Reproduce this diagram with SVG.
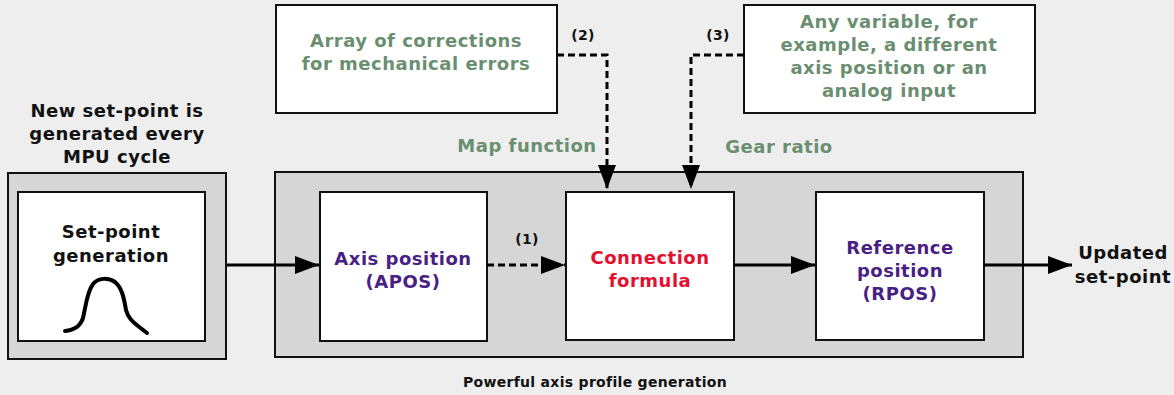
<svg xmlns="http://www.w3.org/2000/svg" width="1174" height="395" viewBox="0 0 1174 395">
<style>
text{font-family:"DejaVu Sans","Liberation Sans",sans-serif;font-weight:bold;text-anchor:middle}
.t{font-size:18px;letter-spacing:0.5px}
.g{fill:#6a8f70}
.p{fill:#4a1f85}
.r{fill:#e3102f}
.k{fill:#111}
.s{font-size:14px;letter-spacing:0.3px;fill:#111}
.box{fill:#fff;stroke:#111;stroke-width:2}
.grp{fill:#d6d6d6;stroke:#111;stroke-width:2}
.ln{fill:none;stroke:#000;stroke-width:3}
.dash{stroke-dasharray:7 4}
</style>
<defs>
<marker id="ah" markerWidth="24" markerHeight="18" refX="24" refY="9" orient="auto" markerUnits="userSpaceOnUse">
<path d="M0,0 L24,9 L0,18 Z" fill="#000"/>
</marker>
</defs>
<rect width="1174" height="395" fill="#eeeeee"/>
<g id="setpoint-group">
<rect class="grp" x="8" y="173" width="218" height="186"/>
<text class="t k" x="117" y="117">New set-point is</text>
<text class="t k" x="117" y="140">generated every</text>
<text class="t k" x="117" y="163">MPU cycle</text>
</g>
<g id="setpoint">
<rect class="box" x="18" y="192" width="187" height="149"/>
<text class="t k" x="111" y="238">Set-point</text>
<text class="t k" x="111" y="262">generation</text>
<path d="M65,331 C74,330 80,327 83,318 C86,305 87,292 93,284 C98,278 108,277 115,282 C122,288 124,298 126,310 C128,318 133,322 138,326 L147,333" fill="none" stroke="#000" stroke-width="4" stroke-linecap="round" stroke-linejoin="round"/>
</g>
<g id="profile-group">
<rect class="grp" x="275" y="172" width="748" height="185"/>
<text class="s" x="595" y="387">Powerful axis profile generation</text>
</g>
<g id="apos">
<rect class="box" x="320" y="192" width="167" height="149"/>
<text class="t p" x="403" y="265">Axis position</text>
<text class="t p" x="403" y="288">(APOS)</text>
</g>
<g id="formula">
<rect class="box" x="566" y="192" width="168" height="148"/>
<text class="t r" x="650" y="264">Connection</text>
<text class="t r" x="650" y="287">formula</text>
</g>
<g id="rpos">
<rect class="box" x="816" y="192" width="168" height="148"/>
<text class="t p" x="900" y="254">Reference</text>
<text class="t p" x="900" y="277">position</text>
<text class="t p" x="900" y="300">(RPOS)</text>
</g>
<g id="corrections">
<rect class="box" x="276" y="5" width="281" height="108"/>
<text class="t g" x="416" y="47">Array of corrections</text>
<text class="t g" x="416" y="70">for mechanical errors</text>
</g>
<g id="variable">
<rect class="box" x="744" y="5" width="291" height="108"/>
<text class="t g" x="889" y="28">Any variable, for</text>
<text class="t g" x="889" y="51">example, a different</text>
<text class="t g" x="889" y="74">axis position or an</text>
<text class="t g" x="889" y="97">analog input</text>
</g>
<g id="output">
<text class="t k" x="1123" y="259">Updated</text>
<text class="t k" x="1123" y="283">set-point</text>
</g>
<g id="connectors">
<line class="ln" x1="226" y1="265" x2="319" y2="265" marker-end="url(#ah)"/>
<line class="ln dash" x1="487" y1="265" x2="565" y2="265" marker-end="url(#ah)"/>
<line class="ln" x1="734" y1="265" x2="815" y2="265" marker-end="url(#ah)"/>
<line class="ln" x1="984" y1="265" x2="1072" y2="265" marker-end="url(#ah)"/>
<path class="ln dash" d="M557,55 H607 V189" marker-end="url(#ah)"/>
<path class="ln dash" d="M744,55 H691 V189" marker-end="url(#ah)"/>
<text class="s" x="527" y="244">(1)</text>
<text class="s" x="583" y="40">(2)</text>
<text class="s" x="718" y="40">(3)</text>
<text class="t g" x="527" y="152">Map function</text>
<text class="t g" x="779" y="153">Gear ratio</text>
</g>
</svg>
